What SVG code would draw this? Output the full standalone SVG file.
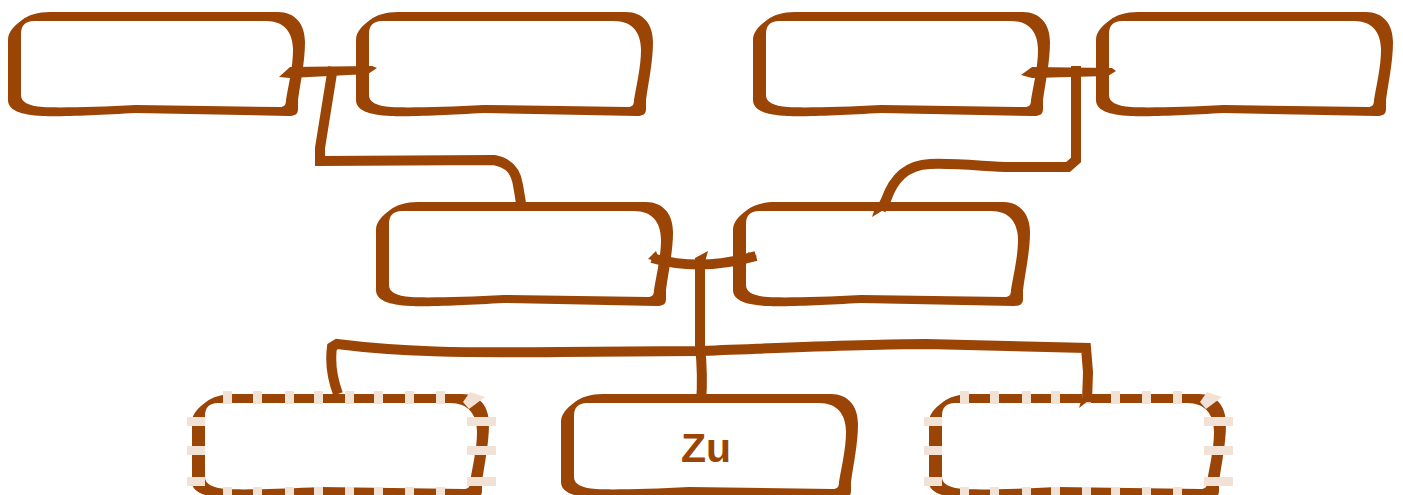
<svg xmlns="http://www.w3.org/2000/svg" xmlns:xlink="http://www.w3.org/1999/xlink" width="1403" height="495" viewBox="0 0 1403 495">
<style>
.box{fill:#9a4406;fill-rule:evenodd}
.tick{fill:#f2e2d6}
.ln{fill:none;stroke:#9a4406;stroke-width:10;stroke-linejoin:miter;stroke-linecap:butt}
.tip{fill:#9a4406}
.lbl{font-family:"Liberation Sans",Arial,sans-serif;font-weight:bold;font-size:41px;fill:#9a4406;text-anchor:middle}
</style>
<defs>
<path id="shape" d="M 0 28 C 0 20 6 14 14 8 C 20 3 30 0 42 0 L 270 0 C 287 0 297 12 297 30 C 297 50 292 72 290 88 L 290 97 C 290 102 287 104 281 104 L 128 101 C 90 103 50 105 35 104 C 12 103 0 98 0 88 Z M 13 22 C 13 14 17 9 26 9 L 258 9 C 276 9 285 20 285 38 C 285 55 280 75 278 88 C 278 93 276 95 272 95 L 128 93 C 90 95 50 96 35 95 C 20 94 13 90 13 83 Z"/>
<g id="ticks" class="tick">
<rect x="31" y="-3" width="9" height="13"/><rect x="61" y="-3" width="9" height="13"/><rect x="93" y="-3" width="9" height="13"/><rect x="122" y="-3" width="9" height="13"/><rect x="153" y="-3" width="9" height="13"/><rect x="182" y="-3" width="9" height="13"/><rect x="213" y="-3" width="9" height="13"/><rect x="244" y="-3" width="9" height="13"/>
<rect x="31" y="93" width="9" height="14"/><rect x="61" y="93" width="9" height="14"/><rect x="93" y="93" width="9" height="14"/><rect x="122" y="93" width="9" height="14"/><rect x="153" y="93" width="9" height="14"/><rect x="182" y="93" width="9" height="14"/><rect x="213" y="93" width="9" height="14"/><rect x="244" y="93" width="9" height="14"/>
<rect x="-5" y="23" width="18" height="9"/><rect x="-5" y="52" width="18" height="9"/><rect x="-5" y="83" width="18" height="9"/>
<rect x="275" y="23" width="29" height="9"/><rect x="275" y="52" width="29" height="9"/><rect x="275" y="83" width="29" height="9"/>
<polygon points="271,8 278,-2 293,3 277,15"/>
</g>
</defs>
<g id="node-a"><use xlink:href="#shape" href="#shape" class="box" x="8" y="12"/></g>
<g id="node-b"><use xlink:href="#shape" href="#shape" class="box" x="356" y="12"/></g>
<g id="node-c"><use xlink:href="#shape" href="#shape" class="box" x="753" y="12"/></g>
<g id="node-d"><use xlink:href="#shape" href="#shape" class="box" x="1096" y="12"/></g>
<g id="node-e"><use xlink:href="#shape" href="#shape" class="box" x="376" y="202"/></g>
<g id="node-f"><use xlink:href="#shape" href="#shape" class="box" x="733" y="202"/></g>
<g id="node-g"><use xlink:href="#shape" href="#shape" class="box" x="192" y="394"/><use xlink:href="#ticks" href="#ticks" x="192" y="394"/></g>
<g id="node-h"><use xlink:href="#shape" href="#shape" class="box" x="561" y="394"/><text class="lbl" x="706" y="462">Zu</text></g>
<g id="node-i"><use xlink:href="#shape" href="#shape" class="box" x="929" y="394"/><use xlink:href="#ticks" href="#ticks" x="929" y="394"/></g>
<g id="connectors">
<polygon class="tip" points="279,77 290,67 372,66 377,68 368,74 290,78"/>
<path class="ln" d="M 333 67 L 320 148 L 320 161 L 494 160 C 510 163 516 172 518 185 L 521 203"/>
<polygon class="tip" points="1021,75 1032,67 1112,68 1116,71 1108,76 1032,78"/>
<path class="ln" d="M 1076 66 L 1076 160 L 1068 167 L 1010 167 C 990 167 960 163 930 164 C 905 165 893 180 886 200 L 881 210"/>
<polygon class="tip" points="876,205 890,206 872,217"/>
<path class="ln" d="M 652 258 Q 700 272 756 256"/>
<polygon class="tip" points="648,259 656,251 660,262"/>
<polygon class="tip" points="757,256 748,252 750,262"/>
<path class="ln" d="M 700 258 L 700 345 C 702 365 703 380 701 402"/>
<polygon class="tip" points="695,258 708,251 705,262"/>
<path class="ln" d="M 338 394 C 332 378 330 362 332 347 L 337 344 C 400 352 460 353 560 352 L 697 351 C 780 348 860 344 926 344 L 1086 348 L 1088 372 L 1087 402"/>
<polygon class="tip" points="1082,398 1092,398 1079,408"/>
</g>
</svg>
